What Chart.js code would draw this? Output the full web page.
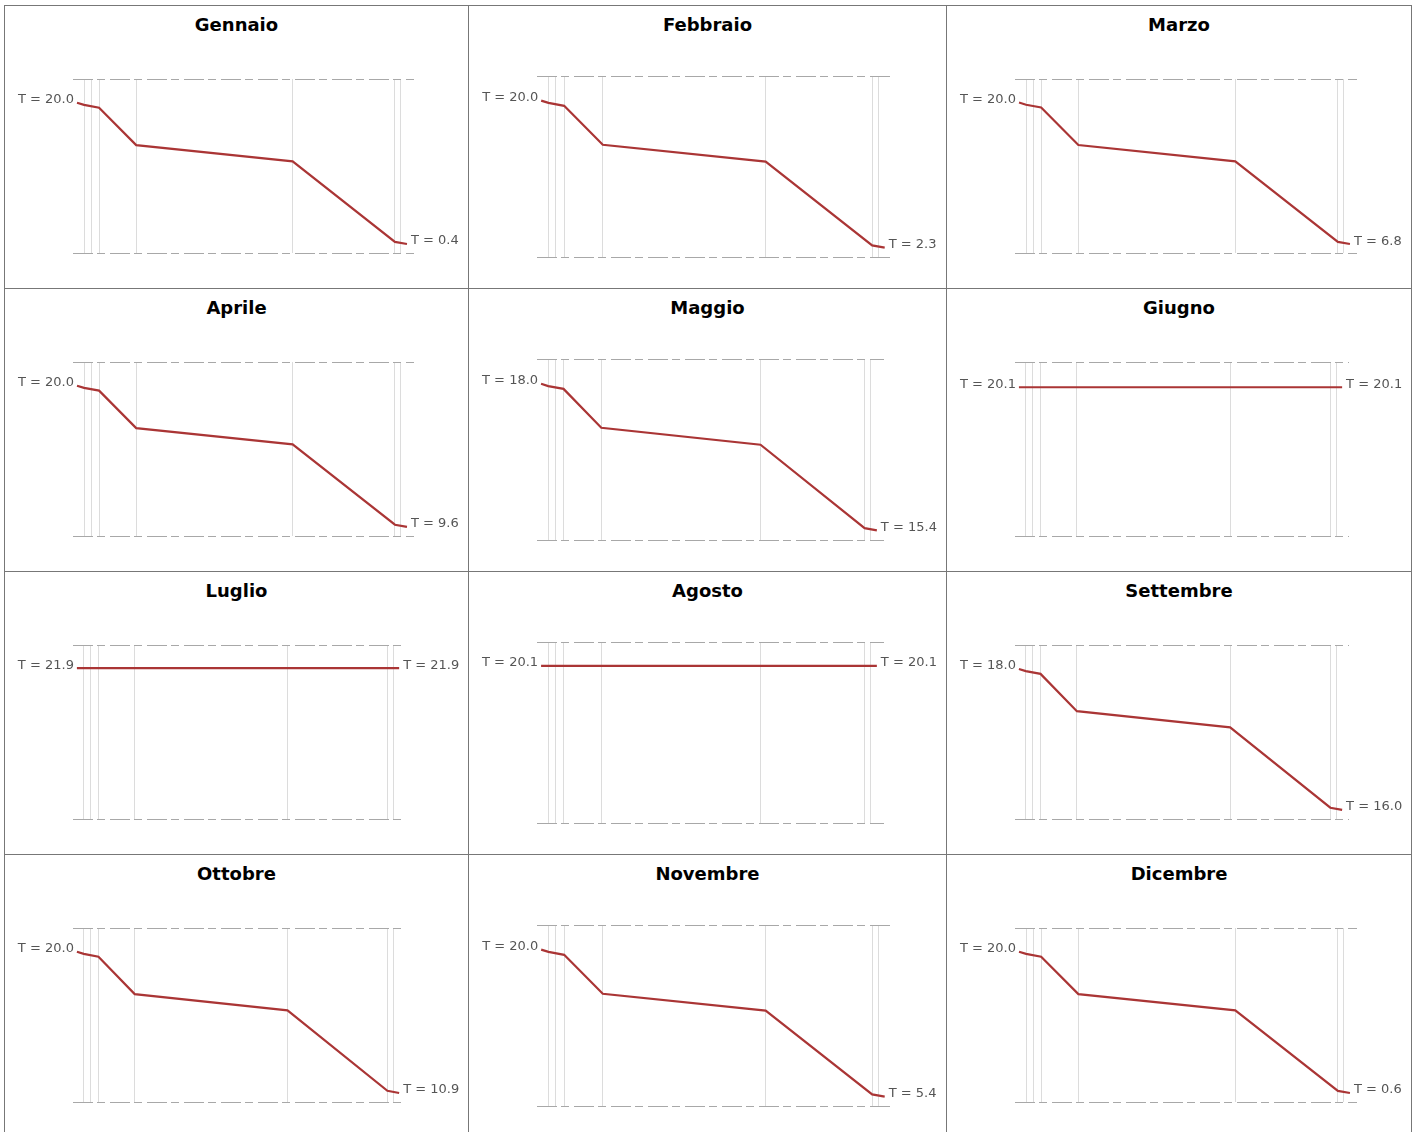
<!DOCTYPE html>
<html>
<head>
<meta charset="utf-8">
<script src="https://cdn.jsdelivr.net/npm/chart.js@4.4.0/dist/chart.umd.min.js"></script>
<style>
  body { margin: 0; background: #fff; font-family: "DejaVu Sans", Verdana, sans-serif; }
  table { border-collapse: collapse; margin: 5px 0 0 4px; table-layout: fixed; }
  td { border: 1px solid #777; padding: 0; vertical-align: top; }
  .cell { position: relative; height: 282px; }
  .title { position: absolute; left: 0; right: 0; top: 8px; text-align: center; font-weight: bold; font-size: 18px; color: #000; }
  .cell canvas { position: absolute; left: 0; top: 40px; }
</style>
</head>
<body>
<table id="grid"></table>
<script>
const months = ['Gennaio', 'Febbraio', 'Marzo', 'Aprile', 'Maggio', 'Giugno',
                'Luglio', 'Agosto', 'Settembre', 'Ottobre', 'Novembre', 'Dicembre'];

// posizioni dei confini tra gli strati della parete
const layerBounds = [11, 18, 26, 63, 219, 321, 327];
// posizioni dei punti del profilo di temperatura
const profileX = [4, 11, 26, 63, 219, 321, 333];

// temperature lungo la parete, mese per mese
const gennaio   = [20.0, 19.71, 19.31, 14.12, 11.87, 0.69, 0.4];
const febbraio  = [20.0, 19.73, 19.38, 14.69, 12.65, 2.57, 2.3];
const marzo     = [20.0, 19.80, 19.54, 16.04, 14.52, 7.00, 6.8];
const aprile    = [20.0, 19.84, 19.64, 16.88, 15.68, 9.76, 9.6];
const maggio    = [18.0, 17.96, 17.91, 17.22, 16.92, 15.44, 15.4];
const giugno    = [20.1, 20.1, 20.1, 20.1, 20.1, 20.1, 20.1];
const luglio    = [21.9, 21.9, 21.9, 21.9, 21.9, 21.9, 21.9];
const agosto    = [20.1, 20.1, 20.1, 20.1, 20.1, 20.1, 20.1];
const settembre = [18.0, 17.97, 17.93, 17.40, 17.17, 16.03, 16.0];
const ottobre   = [20.0, 19.86, 19.68, 17.27, 16.22, 11.04, 10.9];
const novembre  = [20.0, 19.78, 19.49, 15.62, 13.94, 5.62, 5.4];
const dicembre  = [20.0, 19.71, 19.32, 14.18, 11.95, 0.89, 0.6];

const series = [gennaio, febbraio, marzo, aprile, maggio, giugno,
                luglio, agosto, settembre, ottobre, novembre, dicembre];

// limiti dell'asse T (linee tratteggiate)
const yMax = [23.3, 22.97, 22.2, 21.75, 18.44, 21.0, 22.8, 21.0, 18.34, 21.53, 22.45, 23.26];
const yMin = [-0.85, 1.17, 5.96, 8.93, 15.23, 14.8, 16.0, 14.2, 15.87, 10.32, 4.47, -0.64];

const colWidths = [463, 477, 464];
const LABEL_FONT = '13px "DejaVu Sans"';

const measure = document.createElement('canvas').getContext('2d');
measure.font = LABEL_FONT;
const labelText = v => 'T = ' + v.toFixed(1);

const endLabels = {
    id: 'endLabels',
    afterDatasetsDraw(chart) {
        const pts = chart.getDatasetMeta(0).data;
        const vals = chart.data.datasets[0].data;
        const a = pts[0], b = pts[pts.length - 1];
        const ctx = chart.ctx;
        ctx.save();
        ctx.font = LABEL_FONT;
        ctx.fillStyle = '#555';
        ctx.textBaseline = 'alphabetic';
        ctx.textAlign = 'right';
        ctx.fillText(labelText(vals[0].y), a.x - 3, a.y + 0.5);
        ctx.textAlign = 'left';
        ctx.fillText(labelText(vals[vals.length - 1].y), b.x + 4, b.y + 0.5);
        ctx.restore();
    }
};

const table = document.getElementById('grid');
let row;
months.forEach((name, i) => {
    const col = i % 3;
    if (col === 0) row = table.insertRow();
    const td = row.insertCell();
    td.style.width = colWidths[col] + 'px';
    const cell = document.createElement('div');
    cell.className = 'cell';
    const title = document.createElement('div');
    title.className = 'title';
    title.textContent = name;
    const canvas = document.createElement('canvas');
    canvas.width = colWidths[col];
    canvas.height = 242;
    cell.appendChild(title);
    cell.appendChild(canvas);
    td.appendChild(cell);

    const vals = series[i];
    const leftW = measure.measureText(labelText(vals[0])).width;
    const rightW = measure.measureText(labelText(vals[vals.length - 1])).width;
    const wide = col === 1;

    new Chart(canvas, {
        type: 'line',
        data: {
            datasets: [{
                data: vals.map((t, k) => ({ x: profileX[k], y: t })),
                borderColor: '#aa3535',
                borderWidth: 2.2,
                pointRadius: 0,
                tension: 0,
            }],
        },
        options: {
            responsive: false,
            animation: false,
            events: [],
            layout: {
                autoPadding: false,
                padding: {
                    left: Math.round(leftW + 12),
                    right: Math.round(rightW + 6),
                    top: wide ? 30 : 33,
                    bottom: wide ? 31 : 35,
                },
            },
            plugins: { legend: { display: false }, tooltip: { enabled: false } },
            scales: {
                x: {
                    type: 'linear',
                    min: 0,
                    max: 340,
                    afterBuildTicks: s => { s.ticks = layerBounds.map(v => ({ value: v })); },
                    ticks: { display: false },
                    grid: { color: '#dcdcdc', lineWidth: 1, drawTicks: false },
                    border: { display: false },
                },
                y: {
                    min: yMin[i],
                    max: yMax[i],
                    afterBuildTicks: s => { s.ticks = [{ value: yMin[i] }, { value: yMax[i] }]; },
                    ticks: { display: false },
                    grid: { color: '#a8a8a8', lineWidth: 1, drawTicks: false },
                    border: { display: false, dash: [20, 4, 8, 5] },
                },
            },
        },
        plugins: [endLabels],
    });
});
</script>
</body>
</html>
